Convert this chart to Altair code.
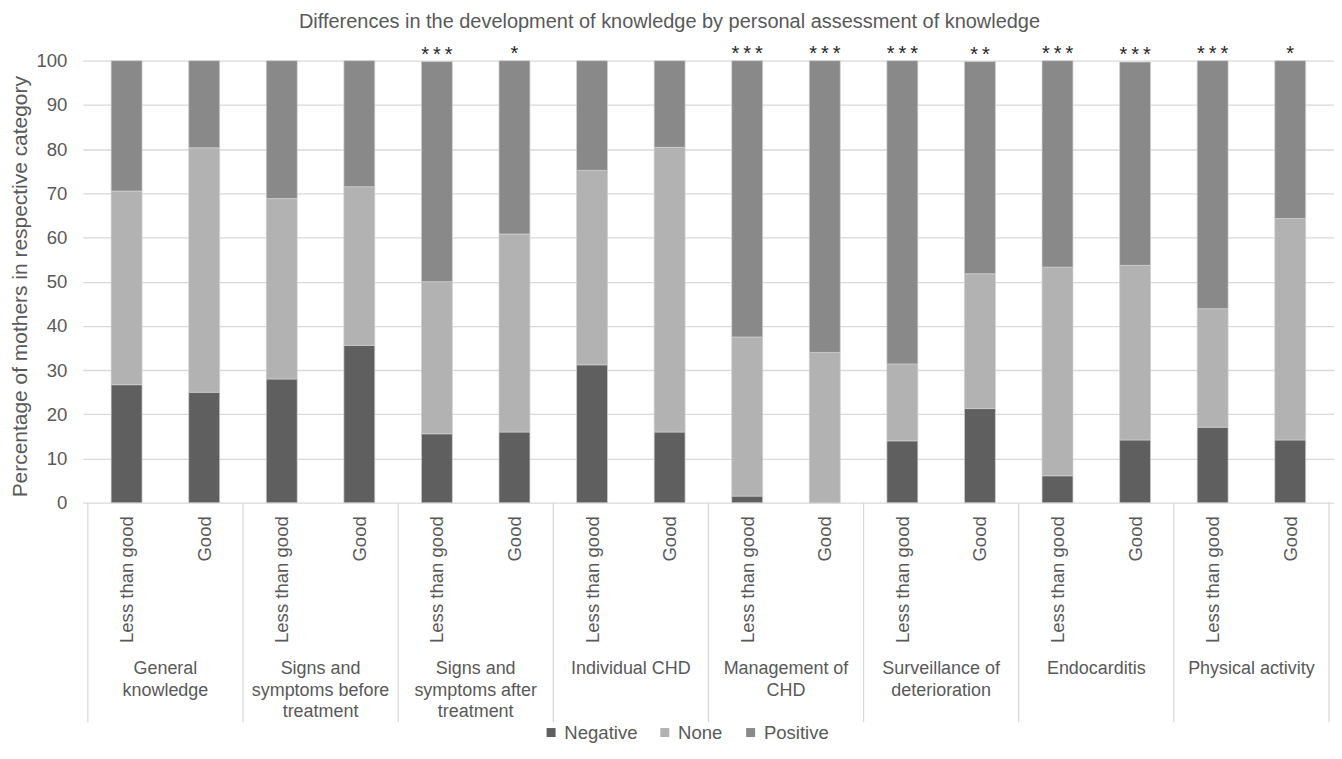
import altair as alt
import pandas as pd

# ---- data ----
topics = [
    "General\nknowledge",
    "Signs and\nsymptoms before\ntreatment",
    "Signs and\nsymptoms after\ntreatment",
    "Individual CHD",
    "Management of\nCHD",
    "Surveillance of\ndeterioration",
    "Endocarditis",
    "Physical activity",
]
levels = ["Less than good", "Good"]
categories = ["Negative", "None", "Positive"]

negative = [26.7, 25.0, 28.0, 35.6, 15.6, 16.0, 31.2, 16.0, 1.5, 0.0, 14.0, 21.3, 6.1, 14.2, 17.1, 14.2]
none_ = [43.8, 55.3, 40.8, 35.9, 34.4, 44.8, 44.0, 64.4, 36.0, 34.0, 17.4, 30.5, 47.2, 39.5, 26.8, 50.1]
positive = [29.5, 19.7, 31.2, 28.5, 49.8, 39.2, 24.8, 19.6, 62.5, 66.0, 68.6, 48.0, 46.7, 46.0, 56.1, 35.7]
stars = ["", "", "", "", "***", "*", "", "", "***", "***", "***", "**", "***", "***", "***", "*"]

colors = ["#5f5f5f", "#b2b2b2", "#898989"]
FONT = "Liberation Sans, Arial, sans-serif"
TXT = "#595959"
GRID = "#d9d9d9"
YTITLE = "Percentage of mothers in respective category"

# ---- tables ----
rows = []
for i in range(len(negative)):
    base = 0.0
    for cat, vals in zip(categories, [negative, none_, positive]):
        v = vals[i]
        rows.append({"idx": i, "category": cat, "y0": base, "y1": base + v, "value": v})
        base += v
bars_df = pd.DataFrame(rows)

star_df = pd.DataFrame({
    "idx": list(range(len(stars))),
    "label": [s.replace("*", "*\u2009").strip() for s in stars],
    "top": [negative[i] + none_[i] + positive[i] for i in range(len(stars))],
})
star_df = star_df[star_df["label"] != ""]

sep_df = pd.DataFrame({"b": [2 * k - 0.5 for k in range(len(topics) + 1)]})
grp_df = pd.DataFrame({"c": [2 * k + 0.5 for k in range(len(topics))], "topic": topics})

W, H = 1254, 443
n = len(negative)
xscale = alt.Scale(domain=[-0.5, n - 0.5], nice=False, zero=False)
yscale = alt.Scale(domain=[0, 100], nice=False)

label_expr = f"datum.value % 2 == 0 ? '{levels[0]}' : '{levels[1]}'"

bars = alt.Chart(bars_df).mark_bar(size=31, stroke="#d0d0d0", strokeWidth=0.7).encode(
    x=alt.X("idx:Q", scale=xscale, axis=alt.Axis(
        values=list(range(n)), labelExpr=label_expr, labelAngle=270, labelAlign="right",
        labelBaseline="middle", labelPadding=13, labelFontSize=18.6, labelFont=FONT,
        labelColor=TXT, labelOverlap=False, labelFlush=False, labelBound=False,
        grid=False, domain=False, ticks=False, title=None)),
    y=alt.Y("y0:Q", scale=yscale, title=YTITLE, axis=alt.Axis(
        values=list(range(0, 101, 10)), grid=True, gridColor=GRID, gridWidth=1.3,
        domain=False, ticks=False, labelFontSize=18.6, labelFont=FONT, labelColor=TXT,
        labelPadding=16, title=YTITLE,
        titleFont=FONT, titleFontSize=21, titleFontWeight="normal", titleColor=TXT,
        titleX=-62, titleY=226, titleBaseline="middle", titleAngle=270)),
    y2="y1:Q",
    color=alt.Color("category:N", scale=alt.Scale(domain=categories, range=colors),
                    sort=categories,
                    legend=alt.Legend(orient="none", legendX=460, legendY=664, direction="horizontal",
                                      title=None, symbolType="square", symbolSize=81,
                                      symbolStrokeWidth=0, labelFontSize=18.6, labelFont=FONT,
                                      labelColor=TXT, labelOffset=4, columnPadding=18, padding=0)),
    order=alt.Order("y0:Q"),
)

star_layer = alt.Chart(star_df).mark_text(
    baseline="alphabetic", align="center", fontSize=20, font=FONT, color="#262626", dy=-1
).encode(
    x=alt.X("idx:Q", scale=xscale, title=None),
    y=alt.Y("top:Q", scale=yscale, title=YTITLE),
    text="label:N",
)

seps = alt.Chart(sep_df).mark_rule(color=GRID, strokeWidth=1.3).encode(
    x=alt.X("b:Q", scale=xscale, title=None),
    y=alt.value(H),
    y2=alt.value(H + 220),
)

groups = alt.Chart(grp_df).mark_text(
    baseline="top", align="center", fontSize=18, font=FONT, color=TXT, lineBreak="\n", lineHeight=21.5
).encode(
    x=alt.X("c:Q", scale=xscale, title=None),
    y=alt.value(H + 158),
    text="topic:N",
)

chart = alt.layer(bars, seps, star_layer, groups).properties(
    width=W, height=H,
    padding={"left": 75, "top": 52, "right": 0, "bottom": 241},
    autosize=alt.AutoSizeParams(type="none"),
    title=alt.TitleParams(
        "Differences in the development of knowledge by personal assessment of knowledge",
        fontSize=20, font=FONT, fontWeight="normal", color=TXT, anchor="middle", dx=-39, dy=-8,
    ),
).configure_view(stroke=None)

chart.save("out.html", embed_options={"renderer": "svg", "actions": False})
